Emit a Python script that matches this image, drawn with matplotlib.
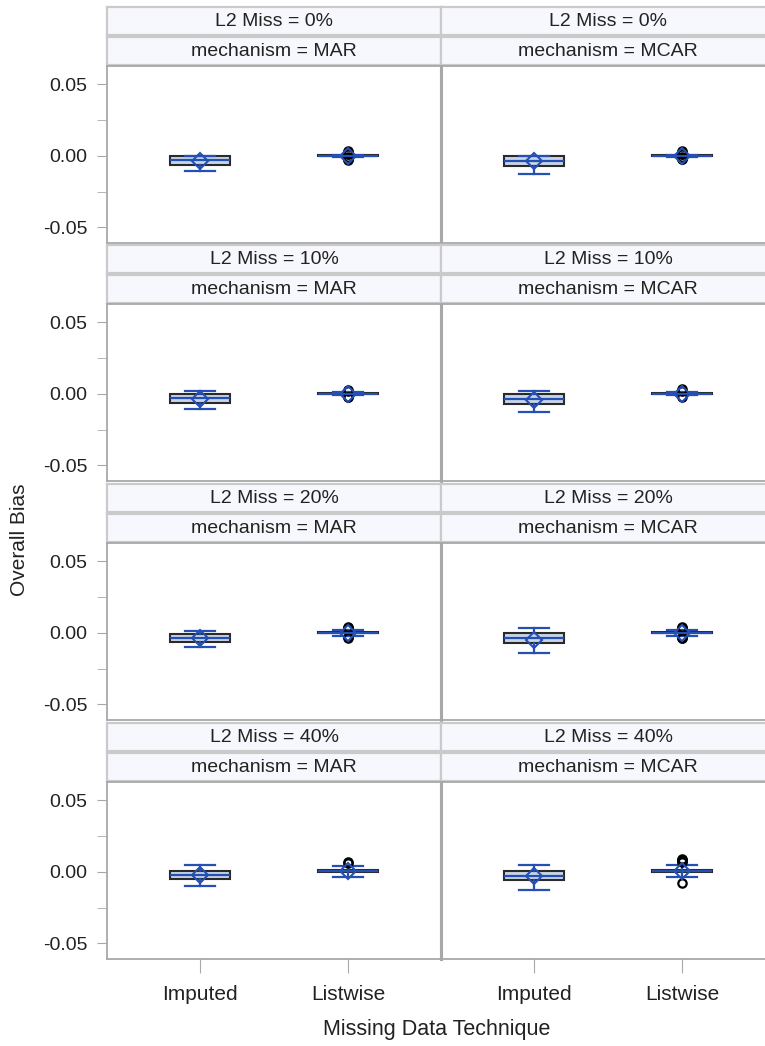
import matplotlib
matplotlib.use('Agg')
import matplotlib.pyplot as plt

plt.rcParams['font.family'] = ['Liberation Sans', 'DejaVu Sans']

# panel levels
l2_miss = ['0%', '10%', '20%', '40%']
mechanisms = ['MAR', 'MCAR']
techniques = ['Imputed', 'Listwise']

# box statistics, indexed [l2 level][mechanism][technique]
whisk_lo = [
    [[-0.011, -0.0008], [-0.013, -0.0008]],
    [[-0.011, -0.0010], [-0.013, -0.0010]],
    [[-0.010, -0.0020], [-0.014, -0.0020]],
    [[-0.010, -0.0040], [-0.013, -0.0040]],
]
q1 = [
    [[-0.0065, -0.0003], [-0.0070, -0.0003]],
    [[-0.0065, -0.0003], [-0.0075, -0.0003]],
    [[-0.0065, -0.0003], [-0.0075, -0.0003]],
    [[-0.0050, -0.0005], [-0.0060, -0.0005]],
]
median = [
    [[-0.0030, 0.0], [-0.0035, 0.0]],
    [[-0.0030, 0.0], [-0.0040, 0.0]],
    [[-0.0035, 0.0], [-0.0040, 0.0]],
    [[-0.0020, 0.0007], [-0.0030, 0.0007]],
]
q3 = [
    [[0.0, 0.0003], [0.0, 0.0003]],
    [[-0.0005, 0.0003], [-0.0005, 0.0003]],
    [[-0.0008, 0.0003], [0.0, 0.0003]],
    [[0.0005, 0.0015], [0.0005, 0.0015]],
]
whisk_hi = [
    [[0.0, 0.0008], [0.0, 0.0008]],
    [[0.002, 0.0010], [0.002, 0.0010]],
    [[0.0015, 0.0020], [0.003, 0.0020]],
    [[0.005, 0.0040], [0.005, 0.0050]],
]
mean = [
    [[-0.0035, 0.0], [-0.0040, 0.0]],
    [[-0.0040, 0.0], [-0.0045, 0.0]],
    [[-0.0035, 0.0], [-0.0050, 0.0]],
    [[-0.0020, 0.0005], [-0.0030, 0.0003]],
]
outliers = [
    [[[], [-0.003, -0.0025, -0.002, -0.0015, -0.0012, 0.0012, 0.0015, 0.002, 0.0025, 0.003]],
     [[], [-0.0025, -0.002, -0.0015, -0.0012, 0.0012, 0.0015, 0.002, 0.0025, 0.003]]],
    [[[], [-0.0025, -0.002, 0.002, 0.0028]],
     [[], [-0.0022, 0.002, 0.003]]],
    [[[], [-0.004, -0.0032, 0.003, 0.0035, 0.004]],
     [[], [-0.004, -0.0035, -0.003, 0.003, 0.0035, 0.004]]],
    [[[], [0.006, 0.0068]],
     [[], [-0.008, 0.007, 0.0075, 0.008, 0.0085, 0.009]]],
]

W, H = 765, 1046
fig = plt.figure(figsize=(W / 100, H / 100), dpi=100)


def px_axes(x0, y0, x1, y1):
    return fig.add_axes([x0 / W, 1 - y1 / H, (x1 - x0) / W, (y1 - y0) / H])


box_fill = '#c8d4e8'
blue = '#2450b4'
edge = '#2a2a2a'
frame = '#a8a8a8'
text_col = '#222222'

col_x = [(107, 441), (441, 775)]
row_top = [7, 245, 484, 723]

for r, lvl in enumerate(l2_miss):
    top = row_top[r]
    for c, mech in enumerate(mechanisms):
        x0, x1 = col_x[c]
        # header strips
        for k, label in enumerate([f'L2 Miss = {lvl}', f'mechanism = {mech}']):
            hax = px_axes(x0, top + k * 30, x1, top + k * 30 + 28)
            hax.set_facecolor('#f7f8fd')
            hax.set_xticks([])
            hax.set_yticks([])
            for s in hax.spines.values():
                s.set_color('#cacaca')
                s.set_linewidth(1.6)
            hax.text(0.5, 0.47, label, transform=hax.transAxes,
                     ha='center', va='center', fontsize=14, color=text_col)

        ax = px_axes(x0, top + 59, x1, top + 236)
        stats = []
        for t, tech in enumerate(techniques):
            stats.append({
                'label': tech,
                'whislo': whisk_lo[r][c][t],
                'q1': q1[r][c][t],
                'med': median[r][c][t],
                'q3': q3[r][c][t],
                'whishi': whisk_hi[r][c][t],
                'mean': mean[r][c][t],
                'fliers': outliers[r][c][t],
            })
        ax.bxp(stats, positions=[0, 1], widths=0.4, capwidths=0.2,
               patch_artist=True, showmeans=True,
               boxprops=dict(facecolor=box_fill, edgecolor=edge, linewidth=1.5),
               medianprops=dict(color=blue, linewidth=1.6),
               whiskerprops=dict(color=blue, linewidth=1.6),
               capprops=dict(color=blue, linewidth=1.6),
               meanprops=dict(marker='D', markersize=8.5, markerfacecolor='none',
                              markeredgecolor=blue, markeredgewidth=1.5),
               flierprops=dict(marker='o', markersize=6, markerfacecolor='none',
                               markeredgecolor='black', markeredgewidth=1.6))
        ax.set_xlim(-0.628, 1.628)
        ax.set_ylim(-0.0609, 0.0626)
        for s in ax.spines.values():
            s.set_color(frame)
            s.set_linewidth(1.3)
        if c == 0:
            ax.spines['right'].set_linewidth(2.2)
            ax.set_yticks([-0.05, 0.0, 0.05])
            ax.set_yticklabels(['-0.05', '0.00', '0.05'])
            ax.set_yticks([-0.025, 0.025], minor=True)
            ax.tick_params(axis='y', which='both', direction='out', length=7,
                           color=frame, labelsize=14, labelcolor=text_col, pad=7)
        else:
            ax.spines['left'].set_linewidth(2.2)
            ax.set_yticks([])
        if r == len(l2_miss) - 1:
            ax.set_xticks([0, 1])
            ax.set_xticklabels(techniques)
            ax.tick_params(axis='x', direction='out', length=10, color=frame,
                           labelsize=15, labelcolor=text_col, pad=9)
        else:
            ax.set_xticks([])

fig.text(20 / W, 1 - 540 / H, 'Overall Bias', rotation=90, ha='center',
         va='center', fontsize=15, color=text_col)
fig.text(437 / W, 1 - 1030 / H, 'Missing Data Technique', ha='center',
         va='center', fontsize=15.5, color=text_col)

fig.savefig('out.png', dpi=100)
